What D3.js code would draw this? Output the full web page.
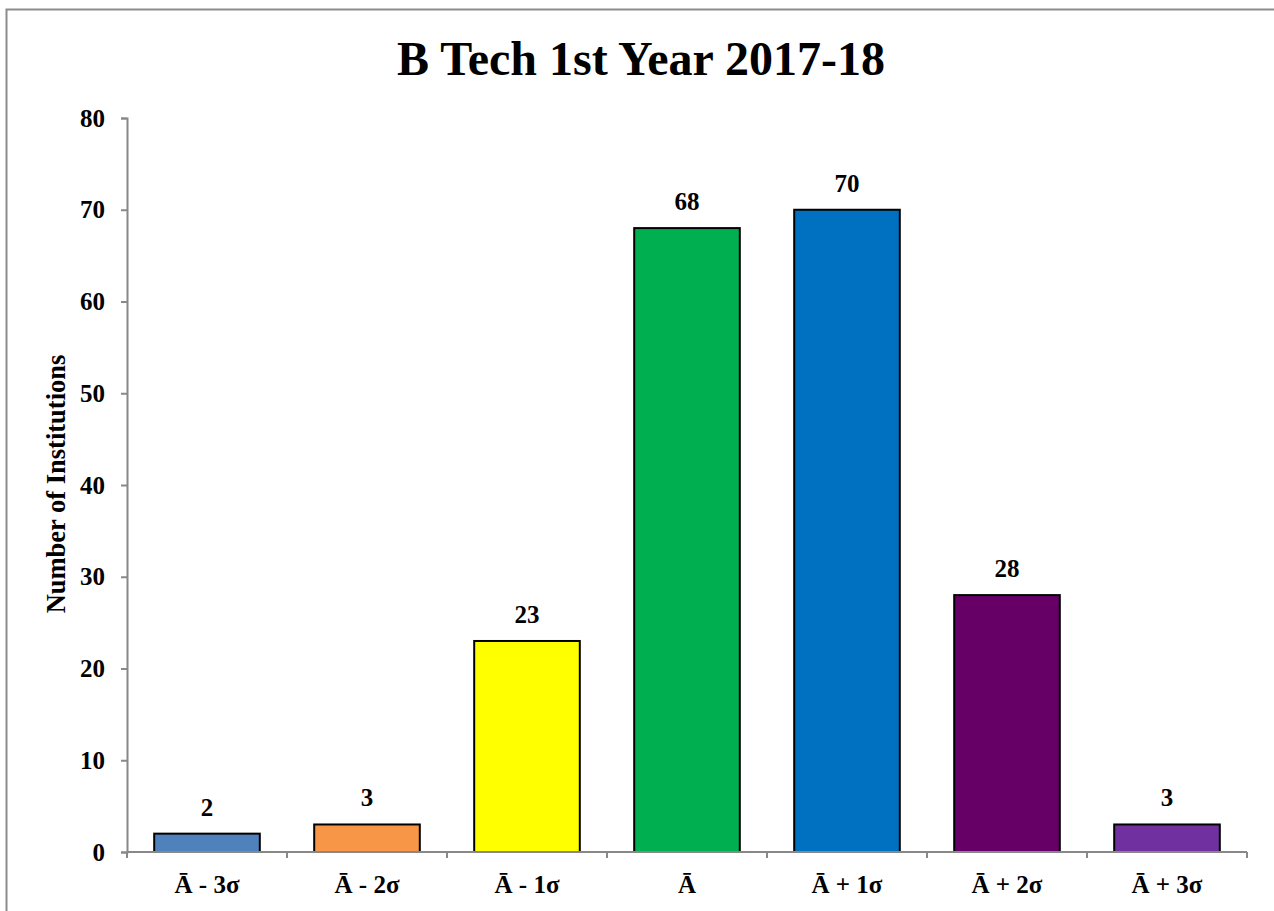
<!DOCTYPE html>
<html><head><meta charset="utf-8">
<script src="https://cdn.jsdelivr.net/npm/d3@7"></script>
<style>body{margin:0;background:#fff}svg{display:block}</style>
</head><body>
<script>
const categories = ["Ā - 3σ","Ā - 2σ","Ā - 1σ","Ā","Ā + 1σ","Ā + 2σ","Ā + 3σ"];
const values = [2,3,23,68,70,28,3];
const colors = ["#4F81BD","#F79646","#FFFF00","#00B050","#0070C0","#660066","#7030A0"];
const yTicks = [0,10,20,30,40,50,60,70,80];
const title = "B Tech 1st Year 2017-18";
const yTitle = "Number of Institutions";

const W=1274,H=911;
const svg=d3.select("body").append("svg").attr("width",W).attr("height",H);
const font="'Liberation Serif','Times New Roman',serif";
svg.append("rect").attr("x",6.5).attr("y",9.5).attr("width",1300).attr("height",1000)
  .attr("fill","#fff").attr("stroke","#8c8c8c").attr("stroke-width",2);

const L=127,R=1247,T=118,B=852;
const x=d3.scaleBand().domain(categories).range([L,R]).paddingInner(0.34).paddingOuter(0.17);
const y=d3.scaleLinear().domain([0,80]).range([B,T]);

svg.append("text").attr("x",641).attr("y",75).attr("text-anchor","middle")
  .style("font-family",font).style("font-weight","bold").style("font-size","48px").text(title);

// y axis
const ya=svg.append("g").attr("transform",`translate(${L},0)`)
  .call(d3.axisLeft(y).tickValues(yTicks).tickSize(6).tickPadding(16));
ya.select(".domain").attr("stroke","#888").attr("stroke-width",2);
ya.selectAll(".tick line").attr("stroke","#888").attr("stroke-width",2);
ya.selectAll(".tick text").style("font-family",font).style("font-weight","bold").style("font-size","25px").attr("fill","#000");

// bars
svg.selectAll("rect.bar").data(values).join("rect").attr("class","bar")
  .attr("x",(d,i)=>x(categories[i])).attr("width",x.bandwidth())
  .attr("y",d=>y(d)).attr("height",d=>B-y(d))
  .attr("fill",(d,i)=>colors[i]).attr("stroke","#000").attr("stroke-width",2);

// x axis
const step=(R-L)/categories.length;
const xa=svg.append("g").attr("transform",`translate(0,${B})`);
xa.append("line").attr("x1",L).attr("x2",R).attr("y1",0).attr("y2",0).attr("stroke","#888").attr("stroke-width",2);
d3.range(categories.length+1).forEach(i=>{
  xa.append("line").attr("x1",L+i*step).attr("x2",L+i*step).attr("y1",0).attr("y2",6).attr("stroke","#888").attr("stroke-width",2);
});
xa.selectAll("text").data(categories).join("text")
  .attr("x",d=>x(d)+x.bandwidth()/2).attr("y",41).attr("text-anchor","middle")
  .style("font-family",font).style("font-weight","bold").style("font-size","25px").text(d=>d);

// value labels
svg.selectAll("text.val").data(values).join("text").attr("class","val")
  .attr("x",(d,i)=>x(categories[i])+x.bandwidth()/2).attr("y",d=>y(d)-18).attr("text-anchor","middle")
  .style("font-family",font).style("font-weight","bold").style("font-size","25px").text(d=>d);

svg.append("text").attr("transform","translate(65,484) rotate(-90)").attr("text-anchor","middle")
  .style("font-family",font).style("font-weight","bold").style("font-size","26.5px").text(yTitle);
</script>
</body></html>
